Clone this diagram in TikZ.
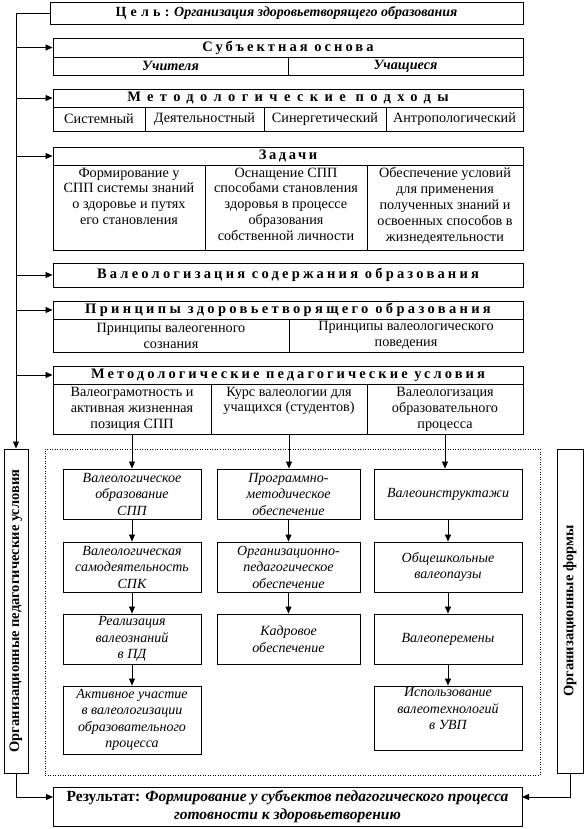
\documentclass[tikz,border=0pt]{standalone}
\usepackage{fontspec}
\setmainfont{Liberation Serif}
\usetikzlibrary{arrows.meta}
\newcommand\Bx[7]{%
  \pgfmathsetmacro\bxw{#5-#3}\pgfmathsetmacro\bxh{#6-#4}%
  \pgfmathsetmacro\bxx{(#3+#5)/2}\pgfmathsetmacro\bxy{(#4+#6)/2}%
  \node[#1, minimum width=\bxw pt, minimum height=\bxh pt] (#2) at (\bxx,\bxy) {#7};}
\newcommand\hfnt[1]{\fontsize{14.5}{16}\selectfont\bfseries\addfontfeature{LetterSpace=#1}}
\begin{document}
\begin{tikzpicture}[x=1pt,y=-1pt,
  cell/.style={draw, line width=0.9pt, inner sep=0pt, align=center, font=\fontsize{14.2}{16}\selectfont},
  hdr/.style={cell},
  ibox/.style={cell, font=\fontsize{14}{16.5}\selectfont\itshape},
  side/.style={draw, line width=0.9pt, inner sep=0pt},
  stxt/.style={rotate=90, font=\fontsize{14.5}{16}\selectfont\bfseries},
  ttxt/.style={anchor=north, inner sep=3pt, align=center, font=\fontsize{14.2}{15.8}\selectfont},
  arr/.style={line width=0.8pt, -{Triangle[length=7pt,width=6pt]}}]
\useasboundingbox (0,0) rectangle (587,829);

% goal
\Bx{hdr}{goal}{50}{2}{523}{24}{{\fontsize{14}{16}\selectfont\bfseries\addfontfeature{LetterSpace=30}Цель:} {\fontsize{14}{16}\selectfont\bfseries\itshape Организация здоровьетворящего образования}}

% subject basis
\Bx{hdr}{subj}{53}{38}{523}{57}{\hfnt{21}Субъектная основа}
\Bx{cell, font=\fontsize{14.2}{16}\selectfont\bfseries\itshape}{subjA}{53}{57}{288}{75}{Учителя}
\Bx{cell, font=\fontsize{14.2}{16}\selectfont\bfseries\itshape}{subjB}{288}{57}{523}{75}{Учащиеся}

% methodological approaches
\Bx{hdr}{met}{53}{89}{523}{107}{\hfnt{44}Методологические подходы}
\Bx{cell}{metA}{53}{107}{145}{131}{Системный}
\Bx{cell}{metB}{145}{107}{264}{131}{Деятельностный}
\Bx{cell}{metC}{264}{107}{386}{131}{Синергетический}
\Bx{cell}{metD}{386}{107}{523}{131}{Антропологический}

% tasks
\Bx{hdr}{zad}{53}{147}{523}{165}{\hfnt{18}Задачи}
\Bx{cell}{zadA}{53}{165}{205}{250}{}
\Bx{cell}{zadB}{205}{165}{367}{250}{}
\Bx{cell}{zadC}{367}{165}{523}{250}{}
\node[ttxt] (zadAt) at (zadA.north) {Формирование у\\СПП системы знаний\\о здоровье и путях\\его становления};
\node[ttxt] (zadBt) at (zadB.north) {Оснащение СПП\\способами становления\\здоровья в процессе\\образования\\собственной личности};
\node[ttxt] (zadCt) at (zadC.north) {Обеспечение условий\\для применения\\полученных знаний и\\освоенных способов в\\жизнедеятельности};

% valeologization
\Bx{hdr}{val}{53}{263}{523}{287}{\hfnt{22}Валеологизация содержания образования}

% principles
\Bx{hdr}{pr}{53}{301}{523}{319}{\hfnt{23}Принципы здоровьетворящего образования}
\Bx{cell}{prA}{53}{319}{289}{352}{Принципы валеогенного\\сознания}
\Bx{cell}{prB}{289}{319}{523}{352}{Принципы валеологического\\поведения}

% methodological pedagogical conditions
\Bx{hdr}{mpu}{53}{366}{523}{384}{\hfnt{21}Методологические педагогические условия}
\Bx{cell}{mpuA}{53}{384}{211}{434}{Валеограмотность и\\активная жизненная\\позиция СПП}
\Bx{cell}{mpuB}{211}{384}{367}{434}{}
\node[ttxt] (mpuBt) at (mpuB.north) {Курс валеологии для\\учащихся (студентов)};
\Bx{cell}{mpuC}{367}{384}{523}{434}{Валеологизация\\образовательного\\процесса}

% dotted frame and side bars
\Bx{draw, line width=0.6pt, dash pattern=on 1pt off 1.5pt, inner sep=0pt}{dot}{45}{449}{540}{775}{}
\Bx{side}{sideL}{4}{449}{28}{773}{}
\node[stxt] (sideLt) at (sideL.center) {Организационные педагогические условия};
\Bx{side}{sideR}{557}{449}{583}{773}{}
\node[stxt] (sideRt) at (sideR.center) {Организационные формы};

% column 1
\Bx{ibox}{a1}{63}{469}{201}{519}{Валеологическое\\образование\\СПП}
\Bx{ibox}{a2}{63}{542}{201}{592}{Валеологическая\\самодеятельность\\СПК}
\Bx{ibox}{a3}{63}{614}{201}{664}{Реализация\\валеознаний\\в ПД}
\Bx{ibox}{a4}{63}{686}{201}{754}{Активное участие\\в валеологизации\\образовательного\\процесса}
% column 2
\Bx{ibox}{b1}{217}{469}{360}{519}{Программно-\\методическое\\обеспечение}
\Bx{ibox}{b2}{217}{542}{360}{592}{Организационно-\\педагогическое\\обеспечение}
\Bx{ibox}{b3}{217}{614}{360}{664}{Кадровое\\обеспечение}
% column 3
\Bx{ibox}{c1}{374}{469}{522}{519}{Валеоинструктажи}
\Bx{ibox}{c2}{374}{542}{522}{592}{Общешкольные\\валеопаузы}
\Bx{ibox}{c3}{374}{614}{522}{664}{Валеоперемены}
\Bx{ibox}{c4}{374}{686}{522}{750}{}
\node[ttxt, font=\fontsize{14}{16.5}\selectfont\itshape, inner sep=2pt] (c4t) at (c4.north) {Использование\\валеотехнологий\\в УВП};

% result
\Bx{cell, font=\fontsize{15.5}{18}\selectfont\bfseries}{res}{53}{787}{522}{826}{Результат: {\itshape Формирование у субъектов педагогического процесса}\\{\itshape готовности к здоровьетворению}}
\coordinate (resL) at (53,797);
\coordinate (resR) at (522,797);

% connectors
\draw[arr] (goal.west) -| (sideL.north);
\foreach \n in {subj,met,zad,val,pr,mpu}{
  \draw[arr] (\n.west -| sideL.north) -- (\n.west);
}
\draw[arr] (mpuA.south) -- (a1.north);
\draw[arr] (mpuB.south) -- (mpuB.south |- b1.north);
\draw[arr] (mpuC.south) -- (mpuC.south |- c1.north);
\draw[arr] (a1) -- (a2);
\draw[arr] (a2) -- (a3);
\draw[arr] (a3) -- (a4);
\draw[arr] (b1) -- (b2);
\draw[arr] (b2) -- (b3);
\draw[arr] (c1) -- (c2);
\draw[arr] (c2) -- (c3);
\draw[arr] (c3) -- (c4);
\draw[arr] (sideL.south) |- (resL);
\draw[arr] (sideR.south) |- (resR);
\end{tikzpicture}
\end{document}
